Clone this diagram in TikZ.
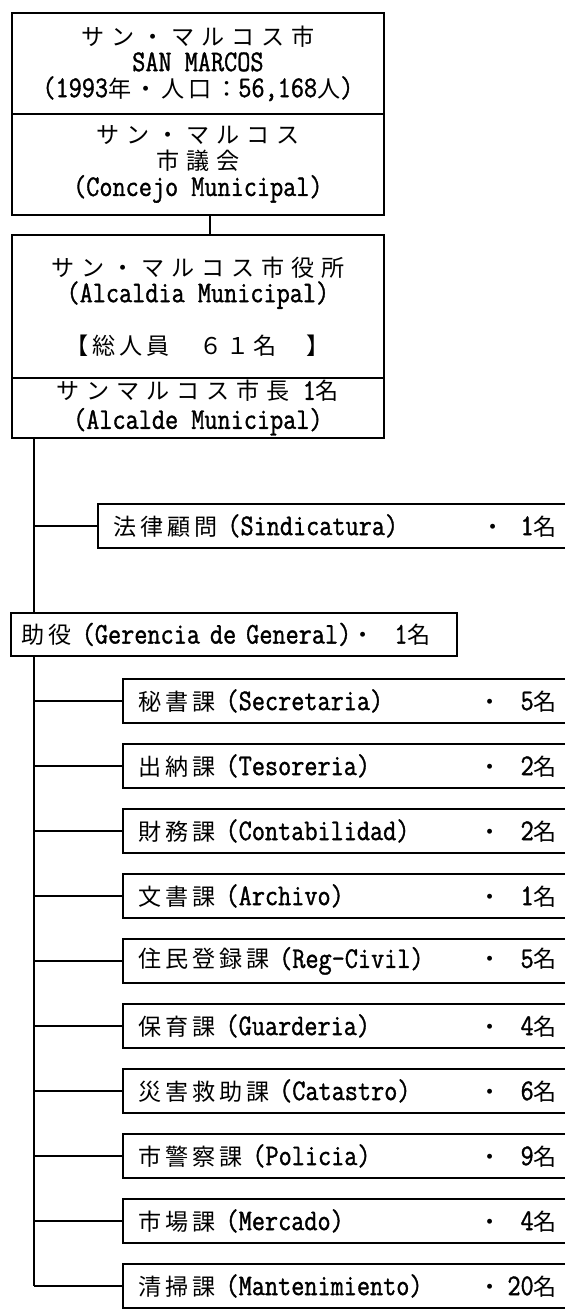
\documentclass[tikz,border=0pt]{standalone}
\usepackage{fontspec}
\setmainfont{Latin Modern Mono}[FakeStretch=0.85,FakeBold=1.2]
\newfontfamily\jp{Noto Sans CJK JP}[Scale=0.77,LetterSpace=16]
\newfontfamily\jpw{Noto Sans CJK JP}[Scale=0.77,LetterSpace=30]
\tikzset{
  every node/.style={font=\fontsize{30}{26}\selectfont},
  ln/.style={line width=1.8pt},
  hdr/.style={draw,ln,anchor=north west,minimum width=372pt,inner sep=0pt,align=center},
  sub/.style={draw,ln,anchor=north west,minimum height=44pt,text width=460pt,align=left,inner xsep=16pt,inner ysep=0pt},
  txt/.style={inner sep=0pt},
  conn/.style={ln}
}
\begin{document}
\begin{tikzpicture}[x=1pt,y=-1pt]
\fill[white] (0,0) rectangle (565,1310);
\useasboundingbox (0,0) rectangle (565,1310);
% header boxes
\node[hdr,minimum height=101pt] (city) at (11,12)
  {{\jpw サン・マルコス市}\\SAN MARCOS\\(1993{\jp 年・人口：}56,168{\jp 人})};
\node[hdr,minimum height=101pt] (council) at (11,113)
  {{\jpw サン・マルコス}\\{\jpw 市議会}\\(Concejo Municipal)};
\node[hdr,minimum height=143pt] (office) at (11,234)
  {{\jpw サン・マルコス市役所}\\(Alcaldia Municipal)\\ \mbox{}\\{\jp 【総人員　６１名　】}};
\node[hdr,minimum height=60pt] (mayor) at (11,377)
  {{\jpw サンマルコス市長} 1{\jp 名}\\[3pt](Alcalde Municipal)};
\draw[conn] (210,0 |- council.south) -- (210,0 |- office.north);
% legal
\node[sub,minimum height=44pt] (legal) at (97,503) {{\jp 法律顧問} (Sindicatura)};
\node[txt,anchor=base] (legaldot) at (493,0 |- legal.base) {{\jp ・}};
\node[txt,anchor=base east] (legaln) at (557,0 |- legal.base) {1{\jp 名}};
% general manager
\node[draw,ln,anchor=north west,minimum height=43pt,text width=424pt,align=left,inner xsep=11pt,inner ysep=0pt] (gen) at (10,612)
  {{\jp 助役} (Gerencia de General){\jp ・}~~1{\jp 名}};
% trunk
\draw[conn] (34,0 |- mayor.south) -- (34,0 |- gen.north);
\draw[conn] (34,0 |- legal.west) -- (legal.west);
% sections
\foreach \i/\jn/\lname/\n in {1/秘書課/Secretaria/5, 2/出納課/Tesoreria/2, 3/財務課/Contabilidad/2, 4/文書課/Archivo/1, 5/住民登録課/Reg-Civil/5, 6/保育課/Guarderia/4, 7/災害救助課/Catastro/6, 8/市警察課/Policia/9, 9/市場課/Mercado/4, 10/清掃課/Mantenimiento/20}{
  \node[sub] (s\i) at (122,{678+65*(\i-1)}) {{\jp \jn} (\lname)};
  \node[txt,anchor=base] (d\i) at (490,0 |- s\i.base) {{\jp ・}};
  \node[txt,anchor=base east] (c\i) at (557,0 |- s\i.base) {\n{\jp 名}};
  \draw[conn] (34,0 |- s\i.west) -- (s\i.west);
}
\draw[conn] (34,0 |- gen.south) -- (34,0 |- s10.west);
\end{tikzpicture}
\end{document}
